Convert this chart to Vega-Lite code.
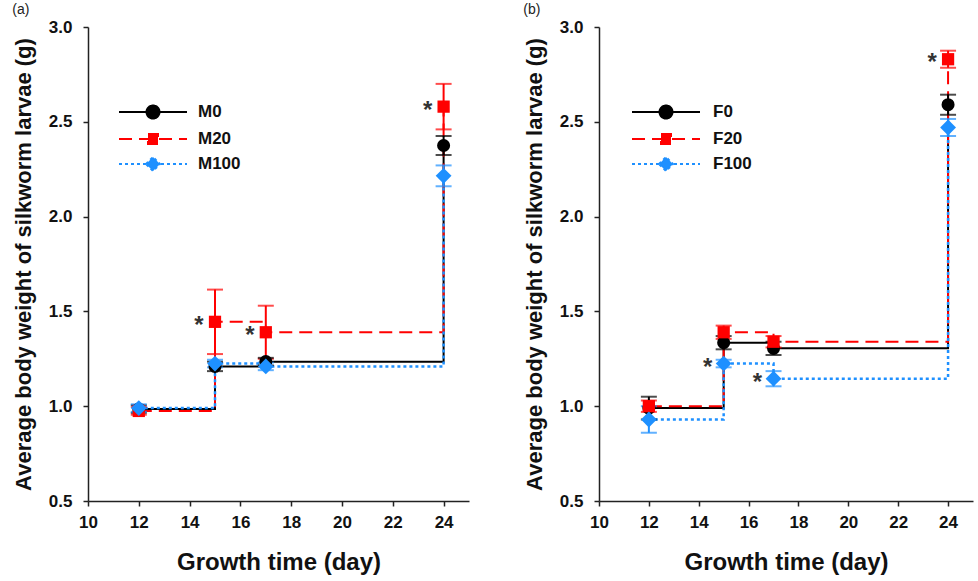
{
  "$schema": "https://vega.github.io/schema/vega-lite/v6.json",
  "padding": {"left": 12, "top": 3, "right": 5, "bottom": 5},
  "background": "white",
  "spacing": 54,
  "config": {
    "view": {"stroke": null},
    "font": "Liberation Sans",
    "axis": {
      "grid": false,
      "domainColor": "#222222",
      "domainWidth": 1.5,
      "tickColor": "#222222",
      "tickWidth": 1.5,
      "tickSize": 5,
      "labelFont": "Liberation Sans",
      "labelFontSize": 17,
      "labelFontWeight": "bold",
      "labelColor": "#111111",
      "titleFont": "Liberation Sans",
      "titleFontWeight": "bold",
      "titleColor": "#111111",
      "labelFlush": false
    },
    "axisX": {"labelPadding": 8, "titlePadding": 20, "titleFontSize": 24},
    "axisY": {"labelPadding": 11, "titlePadding": 13, "titleFontSize": 22},
    "legend": {
      "labelFont": "Liberation Sans",
      "labelFontSize": 17,
      "labelFontWeight": "bold",
      "labelColor": "#111111"
    }
  },
  "resolve": {
    "scale": {"color": "independent"},
    "legend": {"color": "independent"}
  },
  "hconcat": [
    {
      "title": {"text": "(a)", "anchor": "start", "frame": "bounds", "fontSize": 14, "fontWeight": "normal", "offset": 1, "color": "#222222"},
      "width": 381,
      "height": 474,
      "data": {
        "values": [
          {"series": "M0", "day": 12, "mean": 0.985, "sd": 0.02, "sig": ""},
          {"series": "M0", "day": 15, "mean": 1.21, "sd": 0.025, "sig": ""},
          {"series": "M0", "day": 17, "mean": 1.235, "sd": 0.02, "sig": ""},
          {"series": "M0", "day": 24, "mean": 2.375, "sd": 0.05, "sig": ""},
          {"series": "M20", "day": 12, "mean": 0.975, "sd": 0.02, "sig": ""},
          {"series": "M20", "day": 15, "mean": 1.445, "sd": 0.17, "sig": "*"},
          {"series": "M20", "day": 17, "mean": 1.39, "sd": 0.14, "sig": "*"},
          {"series": "M20", "day": 24, "mean": 2.58, "sd": 0.12, "sig": "*"},
          {"series": "M100", "day": 12, "mean": 0.99, "sd": 0.02, "sig": ""},
          {"series": "M100", "day": 15, "mean": 1.225, "sd": 0.02, "sig": ""},
          {"series": "M100", "day": 17, "mean": 1.21, "sd": 0.02, "sig": ""},
          {"series": "M100", "day": 24, "mean": 2.215, "sd": 0.055, "sig": ""}
        ]
      },
      "encoding": {
        "x": {
          "field": "day", "type": "quantitative",
          "scale": {"domain": [10, 25], "nice": false, "zero": false},
          "axis": {"values": [10, 12, 14, 16, 18, 20, 22, 24], "title": "Growth time (day)"}
        },
        "y": {
          "field": "mean", "type": "quantitative",
          "scale": {"domain": [0.5, 3.0], "nice": false, "zero": false},
          "axis": {"values": [0.5, 1.0, 1.5, 2.0, 2.5, 3.0], "format": ".1f", "title": "Average body weight of silkworm larvae (g)"}
        },
        "color": {
          "field": "series", "type": "nominal",
          "scale": {"domain": ["M0", "M20", "M100"], "range": ["#000000", "#FF0000", "#1E90FF"]},
          "legend": {
            "title": null, "orient": "none", "legendX": 54, "legendY": 74,
            "symbolSize": 400, "symbolStrokeWidth": 2, "labelOffset": 34, "rowPadding": 5,
            "encode": {
              "symbols": {
                "update": {
                  "shape": {"signal": "datum.value == 'M100' ? 'M-3.4,0H3.4M-0.7,0L0,-0.7L0.7,0L0,0.7Z' : (datum.value == 'M20' ? 'M-3.4,0H3.4M-0.5,-0.5H0.5V0.5H-0.5Z' : 'M-3.4,0H3.4M0.65,0A0.65,0.65,0,1,1,-0.65,0A0.65,0.65,0,1,1,0.65,0Z')"},
                  "fill": {"signal": "datum.value == 'M100' ? '#1E90FF' : (datum.value == 'M20' ? '#FF0000' : '#000000')"},
                  "stroke": {"signal": "datum.value == 'M100' ? '#1E90FF' : (datum.value == 'M20' ? '#FF0000' : '#000000')"},
                  "strokeDash": {"signal": "datum.value == 'M100' ? [3,3] : (datum.value == 'M20' ? [13,7] : [1,0])"},
                  "strokeWidth": {"value": 2}
                }
              }
            }
          }
        }
      },
      "layer": [
        {
          "transform": [{"filter": "datum.series == 'M0'"}],
          "mark": {"type": "line", "interpolate": "step-after", "strokeWidth": 2}
        },
        {
          "transform": [{"filter": "datum.series == 'M20'"}],
          "mark": {"type": "line", "interpolate": "step-after", "strokeWidth": 2, "strokeDash": [13, 7]}
        },
        {
          "transform": [{"filter": "datum.series == 'M100'"}],
          "mark": {"type": "line", "interpolate": "step-after", "strokeWidth": 2.5, "strokeDash": [3, 3]}
        },
        {
          "mark": {"type": "errorbar", "thickness": 2, "ticks": {"size": 16, "thickness": 2}},
          "encoding": {
            "y": {"field": "mean", "type": "quantitative"},
            "yError": {"field": "sd"}
          }
        },
        {
          "transform": [{"filter": "datum.series == 'M0'"}],
          "mark": {"type": "point", "filled": true, "opacity": 1, "shape": "circle", "size": 170}
        },
        {
          "transform": [{"filter": "datum.series == 'M20'"}],
          "mark": {"type": "point", "filled": true, "opacity": 1, "shape": "square", "size": 150}
        },
        {
          "transform": [{"filter": "datum.series == 'M100'"}],
          "mark": {"type": "point", "filled": true, "opacity": 1, "shape": "diamond", "size": 250}
        },
        {
          "transform": [{"filter": "datum.sig == '*'"}],
          "mark": {"type": "text", "dx": -16, "dy": 4, "fontSize": 24, "fontWeight": "bold"},
          "encoding": {
            "text": {"field": "sig"},
            "color": {"value": "#333333"}
          }
        }
      ]
    },
    {
      "title": {"text": "(b)", "anchor": "start", "frame": "bounds", "fontSize": 14, "fontWeight": "normal", "offset": 1, "color": "#222222"},
      "width": 374,
      "height": 474,
      "data": {
        "values": [
          {"series": "F0", "day": 12, "mean": 0.99, "sd": 0.06, "sig": ""},
          {"series": "F0", "day": 15, "mean": 1.335, "sd": 0.035, "sig": ""},
          {"series": "F0", "day": 17, "mean": 1.305, "sd": 0.035, "sig": ""},
          {"series": "F0", "day": 24, "mean": 2.59, "sd": 0.053, "sig": ""},
          {"series": "F20", "day": 12, "mean": 1.0, "sd": 0.03, "sig": ""},
          {"series": "F20", "day": 15, "mean": 1.39, "sd": 0.035, "sig": ""},
          {"series": "F20", "day": 17, "mean": 1.34, "sd": 0.03, "sig": ""},
          {"series": "F20", "day": 24, "mean": 2.83, "sd": 0.045, "sig": "*"},
          {"series": "F100", "day": 12, "mean": 0.93, "sd": 0.07, "sig": ""},
          {"series": "F100", "day": 15, "mean": 1.225, "sd": 0.02, "sig": "*"},
          {"series": "F100", "day": 17, "mean": 1.145, "sd": 0.04, "sig": "*"},
          {"series": "F100", "day": 24, "mean": 2.47, "sd": 0.045, "sig": ""}
        ]
      },
      "encoding": {
        "x": {
          "field": "day", "type": "quantitative",
          "scale": {"domain": [10, 25], "nice": false, "zero": false},
          "axis": {"values": [10, 12, 14, 16, 18, 20, 22, 24], "title": "Growth time (day)"}
        },
        "y": {
          "field": "mean", "type": "quantitative",
          "scale": {"domain": [0.5, 3.0], "nice": false, "zero": false},
          "axis": {"values": [0.5, 1.0, 1.5, 2.0, 2.5, 3.0], "format": ".1f", "title": "Average body weight of silkworm larvae (g)"}
        },
        "color": {
          "field": "series", "type": "nominal",
          "scale": {"domain": ["F0", "F20", "F100"], "range": ["#000000", "#FF0000", "#1E90FF"]},
          "legend": {
            "title": null, "orient": "none", "legendX": 56, "legendY": 74,
            "symbolSize": 400, "symbolStrokeWidth": 2, "labelOffset": 36, "rowPadding": 5,
            "encode": {
              "symbols": {
                "update": {
                  "shape": {"signal": "datum.value == 'F100' ? 'M-3.4,0H3.4M-0.7,0L0,-0.7L0.7,0L0,0.7Z' : (datum.value == 'F20' ? 'M-3.4,0H3.4M-0.5,-0.5H0.5V0.5H-0.5Z' : 'M-3.4,0H3.4M0.65,0A0.65,0.65,0,1,1,-0.65,0A0.65,0.65,0,1,1,0.65,0Z')"},
                  "fill": {"signal": "datum.value == 'F100' ? '#1E90FF' : (datum.value == 'F20' ? '#FF0000' : '#000000')"},
                  "stroke": {"signal": "datum.value == 'F100' ? '#1E90FF' : (datum.value == 'F20' ? '#FF0000' : '#000000')"},
                  "strokeDash": {"signal": "datum.value == 'F100' ? [3,3] : (datum.value == 'F20' ? [13,7] : [1,0])"},
                  "strokeWidth": {"value": 2}
                }
              }
            }
          }
        }
      },
      "layer": [
        {
          "transform": [{"filter": "datum.series == 'F0'"}],
          "mark": {"type": "line", "interpolate": "step-after", "strokeWidth": 2}
        },
        {
          "transform": [{"filter": "datum.series == 'F20'"}],
          "mark": {"type": "line", "interpolate": "step-after", "strokeWidth": 2, "strokeDash": [13, 7]}
        },
        {
          "transform": [{"filter": "datum.series == 'F100'"}],
          "mark": {"type": "line", "interpolate": "step-after", "strokeWidth": 2.5, "strokeDash": [3, 3]}
        },
        {
          "mark": {"type": "errorbar", "thickness": 2, "ticks": {"size": 16, "thickness": 2}},
          "encoding": {
            "y": {"field": "mean", "type": "quantitative"},
            "yError": {"field": "sd"}
          }
        },
        {
          "transform": [{"filter": "datum.series == 'F0'"}],
          "mark": {"type": "point", "filled": true, "opacity": 1, "shape": "circle", "size": 170}
        },
        {
          "transform": [{"filter": "datum.series == 'F20'"}],
          "mark": {"type": "point", "filled": true, "opacity": 1, "shape": "square", "size": 150}
        },
        {
          "transform": [{"filter": "datum.series == 'F100'"}],
          "mark": {"type": "point", "filled": true, "opacity": 1, "shape": "diamond", "size": 250}
        },
        {
          "transform": [{"filter": "datum.sig == '*'"}],
          "mark": {"type": "text", "dx": -16, "dy": 4, "fontSize": 24, "fontWeight": "bold"},
          "encoding": {
            "text": {"field": "sig"},
            "color": {"value": "#333333"}
          }
        }
      ]
    }
  ]
}
